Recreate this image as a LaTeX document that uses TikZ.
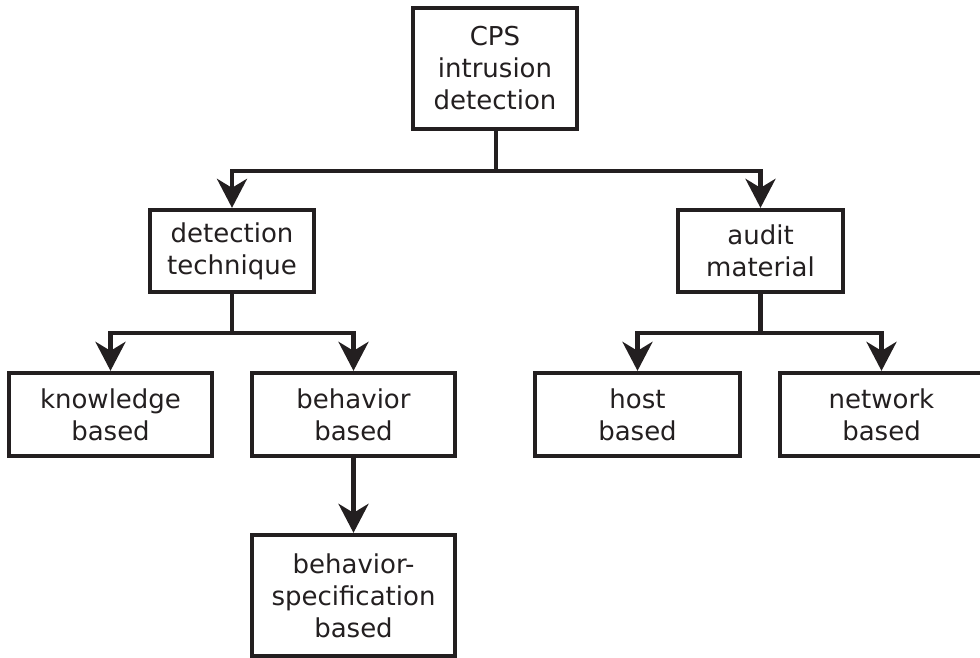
\documentclass[tikz,border=0pt]{standalone}
\usepackage{fontspec}
\setmainfont{DejaVu Sans}
\usetikzlibrary{arrows.meta}
\definecolor{ink}{HTML}{231F20}
\begin{document}
\begin{tikzpicture}[x=1pt,y=-1pt,
  box/.style={draw=ink, line width=4.3pt, fill=white, inner sep=0pt, align=center,
    text=ink, font=\fontsize{26}{32}\selectfont},
  conn/.style={draw=ink, line width=4.3pt},
  arr/.style={conn, -{Stealth[length=29pt,width=30pt,inset=9pt]}}]
\useasboundingbox (0,0) rectangle (980,658);
\node[box, minimum width=164pt, minimum height=121pt] (top) at (495,68.5) {CPS\\intrusion\\detection};
\node[box, minimum width=164pt, minimum height=82pt] (det) at (232,251) {detection\\technique};
\node[box, minimum width=165pt, minimum height=82pt] (aud) at (760.5,251) {audit\\material};
\node[box, minimum width=203pt, minimum height=83pt] (know) at (110.5,414.5) {knowledge\\based};
\node[box, minimum width=203pt, minimum height=83pt] (beh) at (353.5,414.5) {behavior\\based};
\node[box, minimum width=205pt, minimum height=83pt] (host) at (637.5,414.5) {host\\based};
\node[box, minimum width=203pt, minimum height=83pt] (net) at (881.5,414.5) {network\\based};
\node[box, minimum width=203pt, minimum height=121pt] (bspec) at (353.5,595.5) {behavior-\\specification\\based};
\coordinate (j0) at (496,171);
\coordinate (j1) at (232,333);
\coordinate (j2) at (760.5,333);
\draw[conn] (top.south -| j0) -- (j0);
\draw[arr] (j0) -| (det.north);
\draw[arr] (j0) -| (aud.north);
\draw[conn] (det.south) -- (j1);
\draw[arr] (j1) -| (know.north);
\draw[arr] (j1) -| (beh.north);
\draw[conn] (aud.south) -- (j2);
\draw[arr] (j2) -| (host.north);
\draw[arr] (j2) -| (net.north);
\draw[arr] (beh.south) -- (bspec.north);
\end{tikzpicture}
\end{document}
